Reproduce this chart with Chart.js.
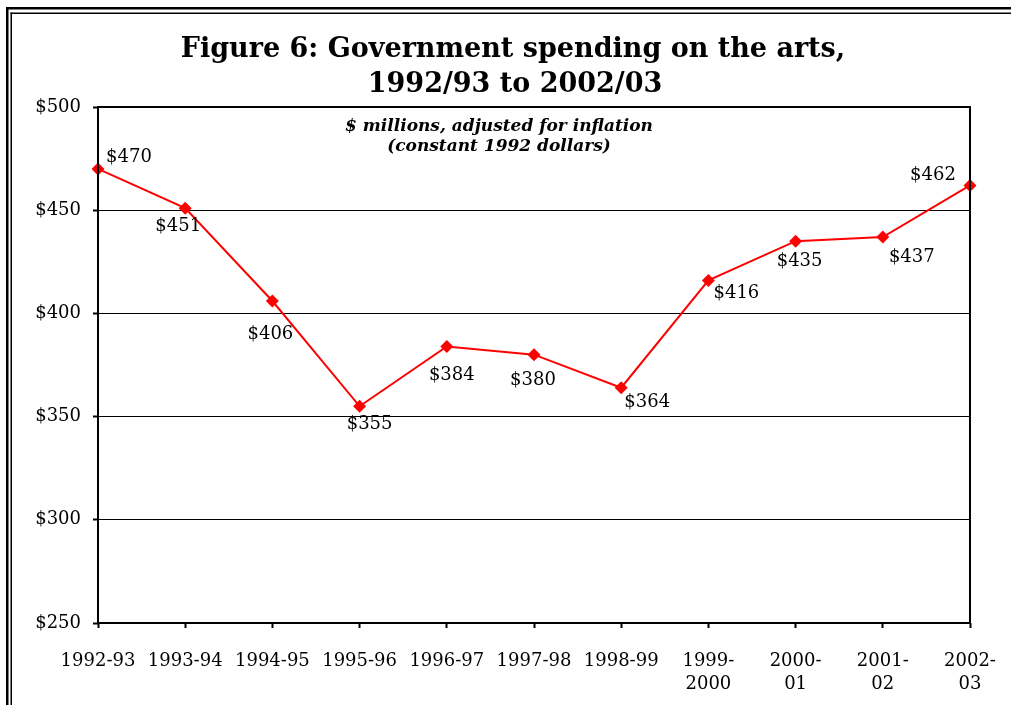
<!DOCTYPE html>
<html>
<head>
<meta charset="utf-8">
<script src="https://cdn.jsdelivr.net/npm/chart.js@4"></script>
<style>
  html, body { margin: 0; padding: 0; background: #fff; }
  canvas { display: block; }
</style>
</head>
<body>
<canvas id="chartArts" width="1011" height="705"></canvas>
<script>
// Spesa pubblica per le arti, milioni di $ costanti 1992
const stagioni = [
    '1992-93', '1993-94', '1994-95', '1995-96', '1996-97', '1997-98', '1998-99',
    ['1999-', '2000'], ['2000-', '01'], ['2001-', '02'], ['2002-', '03']
];
const spesa = [470, 451, 406, 355, 384, 380, 364, 416, 435, 437, 462];
const yTicks = [250, 300, 350, 400, 450, 500];

const titolo = ['Figure 6: Government spending on the arts,', '1992/93 to 2002/03'];
const sottotitolo = ['$ millions, adjusted for inflation', '(constant 1992 dollars)'];

// spostamento delle etichette dei valori rispetto al punto (px)
const labelOffsets = [
    [31, -12], [-7, 18], [-2, 33], [10, 18], [5, 29], [-1, 26],
    [26, 15], [28, 13], [4, 20], [29, 20], [-37, -10]
];

const SERIF = '"DejaVu Serif", "Liberation Serif", serif';

// cornice doppia della pagina e titolo
const framePlugin = {
    id: 'frame',
    beforeDraw(chart) {
        const ctx = chart.ctx;
        const w = chart.width, h = chart.height;
        ctx.save();
        ctx.fillStyle = '#fff';
        ctx.fillRect(0, 0, w, h);
        ctx.fillStyle = '#000';
        ctx.fillRect(6, 7, 2.5, h - 7);
        ctx.fillRect(6, 7, w - 6, 2.5);
        ctx.fillRect(10.5, 12.5, 1.5, h - 12.5);
        ctx.fillRect(10.5, 12.5, w - 10.5, 1.5);

        ctx.textAlign = 'center';
        ctx.textBaseline = 'middle';
        ctx.font = 'bold 27px ' + SERIF;
        ctx.fillText(titolo[0], 513, 50);
        ctx.fillText(titolo[1], 515, 85);
        ctx.restore();
    }
};

// bordo dell'area del grafico, sottotitolo ed etichette dei valori
const overlayPlugin = {
    id: 'overlay',
    afterDatasetsDraw(chart) {
        const ctx = chart.ctx;
        const area = chart.chartArea;
        ctx.save();
        ctx.strokeStyle = '#000';
        ctx.lineWidth = 2;
        ctx.strokeRect(area.left, area.top, area.right - area.left, area.bottom - area.top);

        ctx.fillStyle = '#000';
        ctx.textAlign = 'center';
        ctx.textBaseline = 'middle';
        ctx.font = 'italic bold 17px ' + SERIF;
        const cx = area.left + 401;
        ctx.fillText(sottotitolo[0], cx, area.top + 20);
        ctx.fillText(sottotitolo[1], cx, area.top + 40);

        ctx.font = '18px ' + SERIF;
        const meta = chart.getDatasetMeta(0);
        meta.data.forEach((pt, i) => {
            const [dx, dy] = labelOffsets[i];
            ctx.fillText('$' + spesa[i], pt.x + dx, pt.y + dy);
        });
        ctx.restore();
    }
};

new Chart(document.getElementById('chartArts'), {
    type: 'line',
    data: {
        labels: stagioni,
        datasets: [{
            label: 'Spesa',
            data: spesa,
            borderColor: '#ff0000',
            backgroundColor: '#ff0000',
            borderWidth: 2,
            pointStyle: 'rectRot',
            pointRadius: 6.5,
            pointBorderWidth: 0,
            tension: 0
        }]
    },
    options: {
        responsive: false,
        animation: false,
        layout: {
            autoPadding: false,
            padding: { left: 0, right: 41, top: 107, bottom: 0 }
        },
        plugins: {
            legend: { display: false },
            tooltip: { enabled: false },
            title: { display: false }
        },
        scales: {
            x: {
                offset: false,
                afterFit(scale) {
                    scale.height = 82;
                    // le etichette possono sporgere oltre l'area
                    scale.paddingLeft = 0;
                    scale.paddingRight = 0;
                },
                grid: {
                    drawOnChartArea: false,
                    drawTicks: true,
                    tickLength: 5,
                    tickWidth: 2,
                    color: '#000'
                },
                border: { display: false },
                ticks: {
                    autoSkip: false,
                    maxRotation: 0,
                    minRotation: 0,
                    padding: 22,
                    color: '#000',
                    font: { family: SERIF, size: 18, lineHeight: 1.28 }
                }
            },
            y: {
                min: 250,
                max: 500,
                afterFit(scale) { scale.width = 98; },
                afterBuildTicks(scale) {
                    scale.ticks = yTicks.map(v => ({ value: v }));
                },
                grid: {
                    color: '#000',
                    lineWidth: 1,
                    drawTicks: true,
                    tickLength: 5,
                    tickWidth: 2
                },
                border: { display: false },
                ticks: {
                    padding: 12,
                    color: '#000',
                    font: { family: SERIF, size: 18 },
                    callback: v => '$' + v
                }
            }
        }
    },
    plugins: [framePlugin, overlayPlugin]
});
</script>
</body>
</html>
